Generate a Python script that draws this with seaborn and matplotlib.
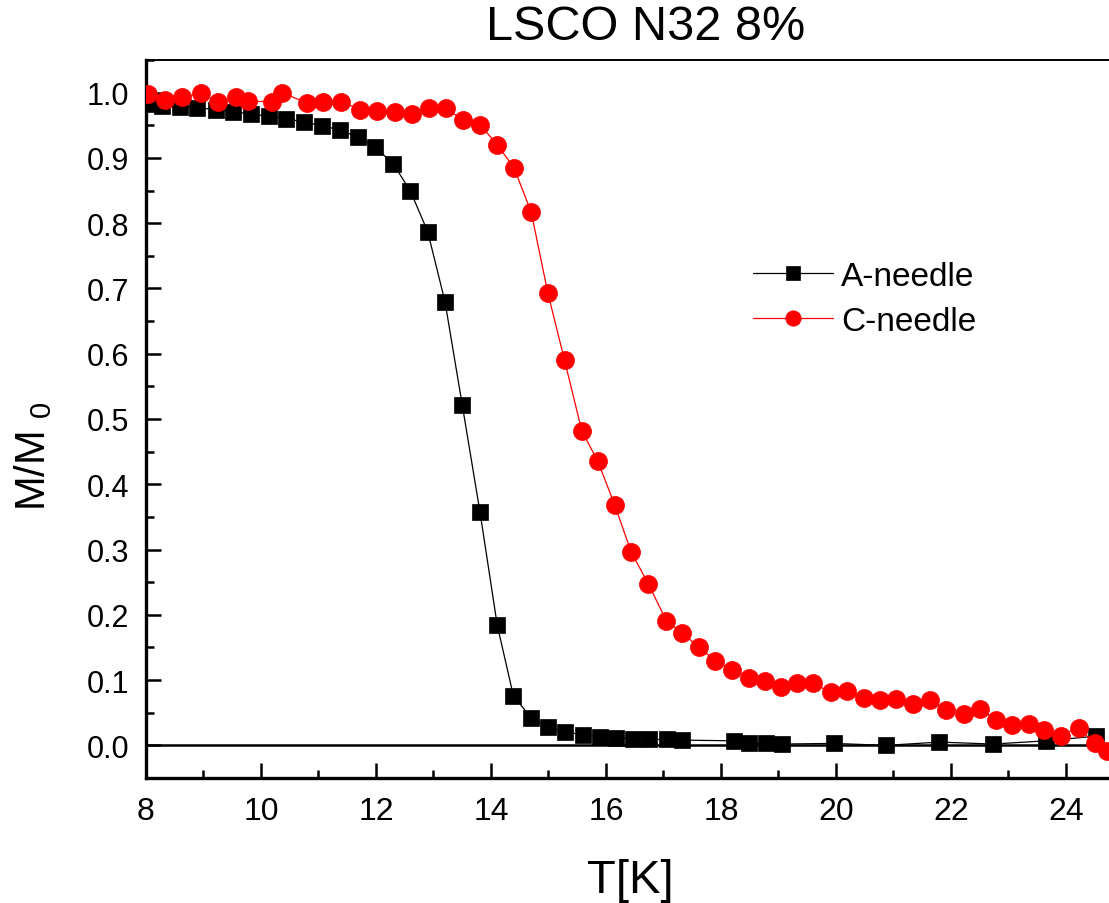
import seaborn as sns
import matplotlib.pyplot as plt
from matplotlib.ticker import MultipleLocator

# A-needle (black squares)
T_a = [8.0, 8.28, 8.59, 8.88, 9.21, 9.52, 9.82, 10.14, 10.44, 10.75, 11.06, 11.37,
       11.68, 11.99, 12.30, 12.60, 12.90, 13.20, 13.50, 13.81, 14.11, 14.39, 14.70,
       14.99, 15.28, 15.60, 15.89, 16.18, 16.47, 16.75, 17.07, 17.33, 18.22, 18.49,
       18.78, 19.06, 19.96, 20.87, 21.80, 22.73, 23.66, 24.52]
M_a = [0.983, 0.979, 0.978, 0.977, 0.974, 0.971, 0.967, 0.964, 0.960, 0.955, 0.949,
       0.943, 0.932, 0.916, 0.891, 0.849, 0.787, 0.680, 0.522, 0.357, 0.184, 0.076,
       0.042, 0.028, 0.021, 0.016, 0.013, 0.012, 0.010, 0.009, 0.009, 0.008, 0.007,
       0.003, 0.003, 0.002, 0.003, 0.000, 0.005, 0.002, 0.007, 0.014]

# C-needle (red circles)
T_c = [8.04, 8.33, 8.63, 8.95, 9.26, 9.57, 9.77, 10.20, 10.37, 10.80, 11.08, 11.40,
       11.72, 12.02, 12.33, 12.63, 12.92, 13.21, 13.52, 13.81, 14.11, 14.40, 14.70,
       14.99, 15.28, 15.58, 15.86, 16.15, 16.44, 16.74, 17.05, 17.33, 17.62, 17.90,
       18.20, 18.49, 18.76, 19.05, 19.33, 19.61, 19.91, 20.20, 20.48, 20.77, 21.05,
       21.34, 21.63, 21.92, 22.22, 22.51, 22.78, 23.07, 23.35, 23.62, 23.91, 24.22,
       24.50, 24.72]
M_c = [0.998, 0.989, 0.993, 0.999, 0.985, 0.993, 0.987, 0.986, 1.000, 0.984, 0.986,
       0.986, 0.974, 0.972, 0.971, 0.968, 0.976, 0.976, 0.958, 0.951, 0.920, 0.885,
       0.817, 0.693, 0.590, 0.482, 0.435, 0.369, 0.296, 0.247, 0.191, 0.172, 0.150,
       0.130, 0.116, 0.103, 0.099, 0.090, 0.095, 0.095, 0.081, 0.083, 0.072, 0.070,
       0.071, 0.064, 0.069, 0.054, 0.048, 0.056, 0.039, 0.031, 0.032, 0.023, 0.015,
       0.027, 0.003, -0.009]

sns.set_style('white')
plt.rcParams['font.family'] = ['Liberation Sans', 'DejaVu Sans']
plt.rcParams['mathtext.fontset'] = 'custom'
plt.rcParams['mathtext.rm'] = 'Liberation Sans'
plt.rcParams['mathtext.it'] = 'Liberation Sans'
plt.rcParams['text.color'] = 'black'
plt.rcParams['axes.labelcolor'] = 'black'
plt.rcParams['xtick.color'] = 'black'
plt.rcParams['ytick.color'] = 'black'

fig = plt.figure(figsize=(11.09, 9.04), dpi=100)
ax = fig.add_axes([146/1109, 1-779/904, 963/1109, 718/904])

ax.axhline(0, color='black', lw=1.8, zorder=1.5)

sns.lineplot(x=T_a, y=M_a, ax=ax, color='black', lw=0.9, marker='s',
             markersize=11.5, markeredgecolor='black', markeredgewidth=0.5,
             label='A-needle', sort=False, zorder=3)
sns.lineplot(x=T_c, y=M_c, ax=ax, color='red', lw=0.9, marker='o',
             markersize=13, markeredgecolor='red', markeredgewidth=0.5,
             label='C-needle', sort=False, zorder=4)

ax.set_xlim(8, 24.75)
ax.set_ylim(-0.05, 1.05)
ax.xaxis.set_major_locator(MultipleLocator(2))
ax.xaxis.set_minor_locator(MultipleLocator(1))
ax.yaxis.set_major_locator(MultipleLocator(0.1))
ax.yaxis.set_minor_locator(MultipleLocator(0.05))
ax.yaxis.set_major_formatter(plt.FormatStrFormatter('%.1f'))

ax.tick_params(which='both', direction='in', width=1.8, color='black',
               bottom=True, left=True, top=False, right=False)
ax.tick_params(which='major', length=11)
ax.tick_params(which='minor', length=5.5)
ax.tick_params(axis='x', labelsize=23, pad=13)
ax.tick_params(axis='y', labelsize=22, pad=12)

for s in ['left', 'bottom']:
    ax.spines[s].set_linewidth(2.4)
    ax.spines[s].set_color('black')
ax.spines['top'].set_linewidth(1.4)
ax.spines['top'].set_color('black')
ax.spines['right'].set_visible(False)

ax.set_xlabel('T[K]', fontsize=34)
ax.set_ylabel('M/M $_0$', fontsize=30)
ax.xaxis.set_label_coords(0.5026, -0.112)
ax.yaxis.set_label_coords(-0.095, 0.45)

ax.set_title('LSCO N32 8%', fontsize=35, x=0.519, y=1.018, va='baseline')

ax.legend(loc='upper left', bbox_to_anchor=(736/1109, 1-245/904),
          bbox_transform=fig.transFigure, frameon=False, fontsize=24,
          borderpad=0, handlelength=2.4, handletextpad=0.25,
          labelspacing=0.42, markerscale=0.85)

fig.savefig('out.png', dpi=100)
